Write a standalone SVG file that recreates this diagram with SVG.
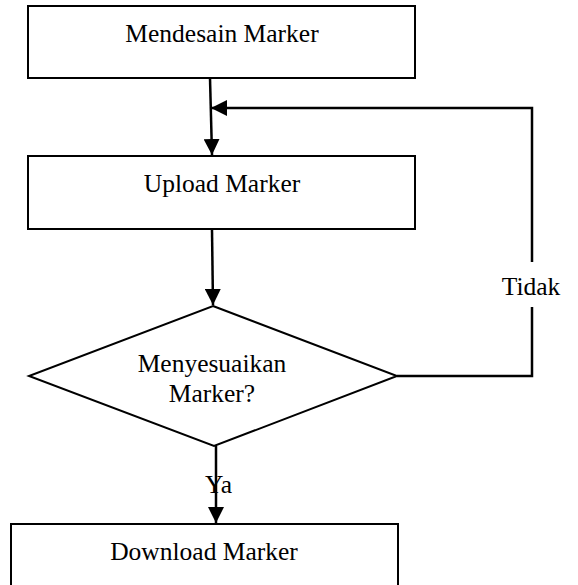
<svg xmlns="http://www.w3.org/2000/svg" width="578" height="585" viewBox="0 0 578 585">
<defs>
<style>
.box{fill:#fff;stroke:#000;stroke-width:2}
.lbl{font-family:"Liberation Serif","Times New Roman",serif;font-size:25.5px;fill:#000}
.con{fill:none;stroke:#000;stroke-width:2.5}
</style>
<marker id="ah" viewBox="0 0 10 10" refX="10" refY="5" markerWidth="16" markerHeight="16" markerUnits="userSpaceOnUse" orient="auto">
<path d="M0,0 L10,5 L0,10 Z" fill="#000"/>
</marker>
</defs>
<rect width="578" height="585" fill="#fff"/>
<g id="connectors">
<path class="con" d="M210,78 L212,155" marker-end="url(#ah)"/>
<path class="con" d="M397,376 L532,376 L532,307"/>
<path class="con" d="M532,262 L532,108 L211,108" marker-end="url(#ah)"/>
<path class="con" d="M212,230 L213,305" marker-end="url(#ah)"/>
<path class="con" d="M216,446 L216,523" marker-end="url(#ah)"/>
</g>
<g id="n1"><rect class="box" x="28" y="6" width="387" height="72"/><text class="lbl" x="222" y="42" text-anchor="middle">Mendesain Marker</text></g>
<g id="n2"><rect class="box" x="28" y="156" width="387" height="73"/><text class="lbl" x="222" y="192" text-anchor="middle">Upload Marker</text></g>
<g id="n3"><polygon class="box" points="213,306 397,376 214,446 29,376"/><text class="lbl" x="212" y="372" text-anchor="middle">Menyesuaikan</text><text class="lbl" x="212" y="402" text-anchor="middle">Marker?</text></g>
<g id="n4"><rect class="box" x="11" y="524" width="387" height="70"/><text class="lbl" x="204" y="560" text-anchor="middle">Download Marker</text></g>
<text class="lbl" x="531" y="295" text-anchor="middle">Tidak</text>
<text class="lbl" x="205" y="493">Ya</text>
</svg>
